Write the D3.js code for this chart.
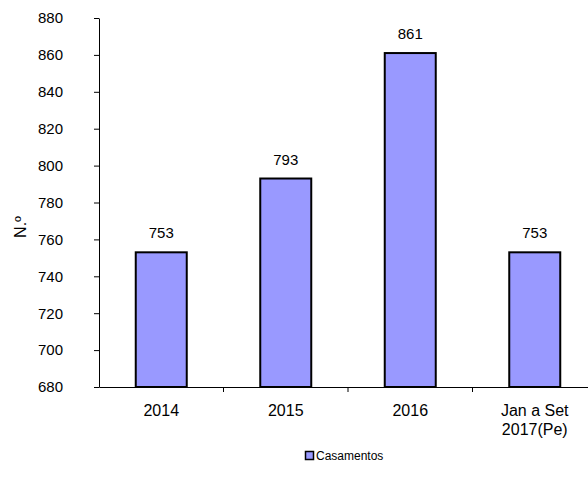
<!DOCTYPE html>
<html><head><meta charset="utf-8">
<script src="https://cdn.jsdelivr.net/npm/d3@7"></script>
<style>body{margin:0;background:#fff}svg{display:block}text{font-family:"Liberation Sans",Arial,sans-serif}</style>
</head><body>
<svg id="c" width="588" height="488"></svg>
<script>
const categories = [["2014"],["2015"],["2016"],["Jan a Set","2017(Pe)"]];
const values = [753, 793, 861, 753];
const yTicks = [680,700,720,740,760,780,800,820,840,860,880];
const seriesName = "Casamentos";

(function(){
const FS = 15;
const svg = d3.select("#c");
const mLeft = 99, mRight = 597, mTop = 18, mBottom = 387;
const x = d3.scaleBand().domain(d3.range(categories.length)).range([mLeft, mRight]).paddingInner(0).paddingOuter(0);
const y = d3.scaleLinear().domain([680, 880]).range([mBottom, mTop]);
const bw = 51;

svg.selectAll("rect.bar").data(values).enter().append("rect")
  .attr("x", (d,i) => x(i) + x.bandwidth()/2 - bw/2)
  .attr("y", d => y(d))
  .attr("width", bw)
  .attr("height", d => mBottom - y(d))
  .attr("fill", "#9999ff").attr("stroke", "#000").attr("stroke-width", 2);

const ya = svg.append("g").attr("transform", `translate(${mLeft},0)`)
  .call(d3.axisLeft(y).tickValues(yTicks).tickSize(5).tickSizeOuter(0).tickPadding(31));
ya.attr("font-size", FS).attr("font-family", "Liberation Sans, Arial, sans-serif");
ya.select(".domain").attr("stroke", "#000");
ya.selectAll("text").attr("fill", "#000");

const xa = svg.append("g").attr("transform", `translate(0,${mBottom})`)
  .call(d3.axisBottom(x).tickSize(0).tickFormat(""));
xa.select(".domain").attr("stroke", "#000");
svg.selectAll("line.sep").data(d3.range(1, categories.length)).enter().append("line")
  .attr("x1", i => x(i)).attr("x2", i => x(i))
  .attr("y1", mBottom).attr("y2", mBottom + 5).attr("stroke", "#000");
categories.forEach((lines, i) => {
  const t = svg.append("text").attr("text-anchor", "middle").attr("font-size", 16).attr("fill", "#000");
  lines.forEach((ln, k) => t.append("tspan").attr("x", x(i) + x.bandwidth()/2).attr("y", mBottom + 29 + k*19).text(ln));
});

svg.selectAll("text.val").data(values).enter().append("text")
  .attr("x", (d,i) => x(i) + x.bandwidth()/2).attr("y", d => y(d) - 14)
  .attr("text-anchor", "middle").attr("font-size", FS).attr("fill", "#000").text(d => d);

svg.append("text").attr("transform", "translate(26,227) rotate(-90)").attr("text-anchor", "middle")
  .attr("font-size", 16).attr("fill", "#000").text("N.º");

svg.append("rect").attr("x", 305.5).attr("y", 451.5).attr("width", 8).attr("height", 8)
  .attr("fill", "#9999ff").attr("stroke", "#000").attr("stroke-width", 1.5);
svg.append("text").attr("x", 316).attr("y", 460).attr("font-size", 12).attr("fill", "#000").text(seriesName);
})();
</script>
</body></html>
